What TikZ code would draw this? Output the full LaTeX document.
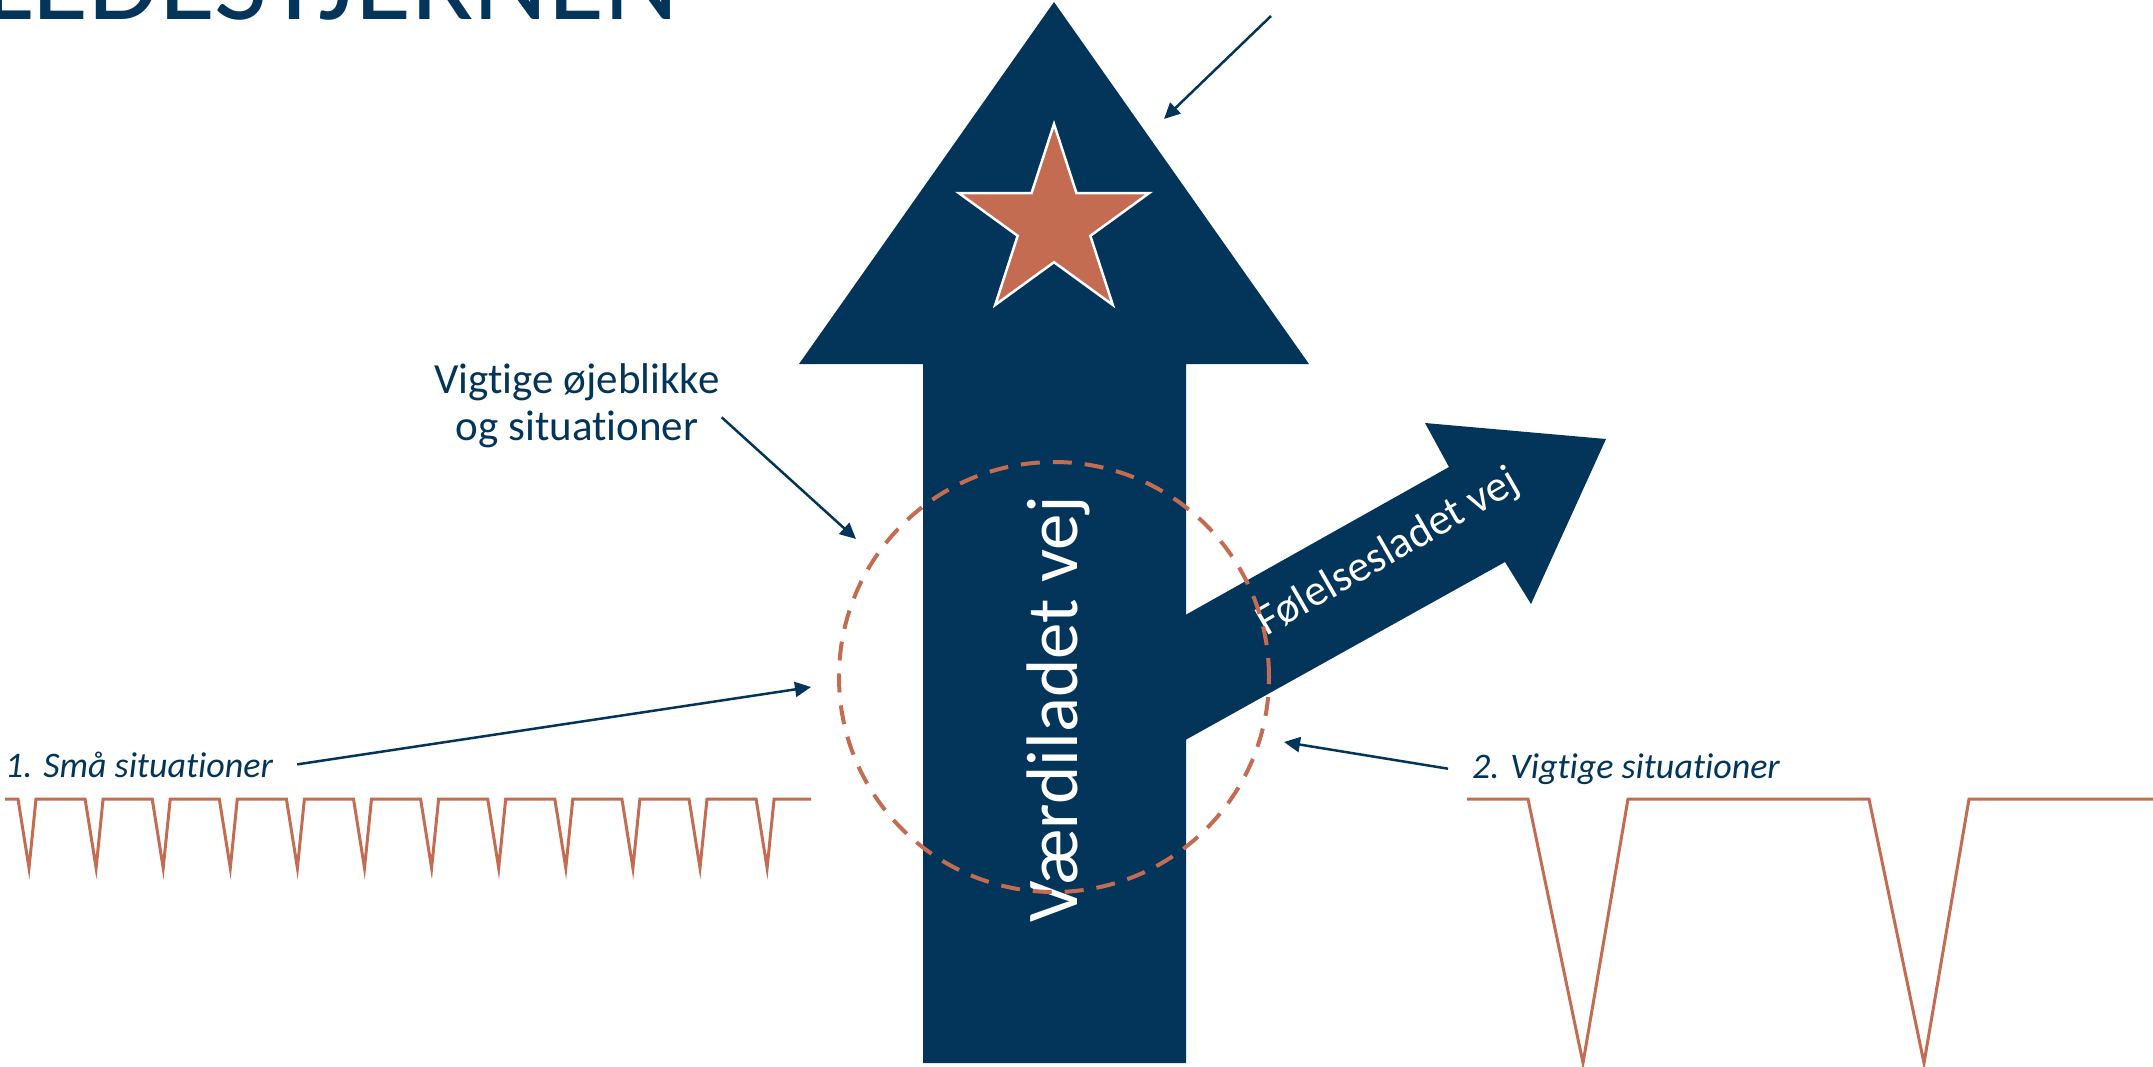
\documentclass[tikz,border=0pt]{standalone}
\usepackage{fontspec}
\setmainfont{Carlito}[Ligatures=NoCommon]
\usetikzlibrary{arrows.meta, shapes.geometric}
\definecolor{navy}{HTML}{03355A}
\definecolor{rust}{HTML}{C46C52}

\begin{document}
\begin{tikzpicture}[
	x=1pt, y=-1pt,
	every node/.style={inner sep=0pt, text=navy},
	road/.style={fill=navy},
	wave/.style={draw=rust, line width=3pt, line join=miter},
	pointer/.style={draw=navy, line width=2.5pt, -{Triangle[length=16pt, width=15pt]}},
	situation/.style={font=\fontsize{36}{42}\selectfont\itshape, anchor=base west},
	roadtext/.style={text=white, font=\fontsize{#1}{#1}\selectfont}
	]
	\useasboundingbox (0,0) rectangle (2153,1066);
	\clip (0,0) rectangle (2153,1066);

	% --- TITEL ---
	\node[anchor=base west, font=\fontsize{115}{120}\selectfont] (title) at (-16,19) {LEDESTJERNEN};

	% --- VEJENE OG STJERNEN ---
	\fill[road] (1180,618) -- (1449,467) -- (1425,423) -- (1606,439) -- (1531,604) -- (1505,562) -- (1180,743) -- cycle;
	\fill[road] (1054,2) -- (1309,364) -- (1186,364) -- (1186,1063) -- (923,1063) -- (923,364) -- (799,364) -- cycle;
	\node[star, star points=5, star point ratio=2.618, minimum size=200pt, fill=rust, draw=white, line width=2.5pt] (star) at (1054,224) {};

	\node[roadtext=73, rotate=90, anchor=base west] (value) at (1077,923) {Værdiladet vej};
	\node[roadtext=44, rotate=30, anchor=base] (feeling) at (1394,563) {Følelsesladet vej};

	% valgpunktet
	\draw[rust, line width=4pt, dash pattern=on 19pt off 13pt] (1054,677) circle[radius=215pt];

	% --- SITUATIONER ---
	\draw[wave] (5,799) \foreach \k in {0,...,11} {
		-- ({18+67.1*\k},799) -- ({29+67.1*\k},868) -- ({36+67.1*\k},799)} -- (811,799);
	\draw[wave] (1467,799) -- (1528,799) -- (1583,1063) -- (1628,799) -- (1869,799) -- (1924,1063) -- (1969,799) -- (2153,799);

	% --- TEKSTER OG PILE ---
	\node[font=\fontsize{43}{47}\selectfont, align=center, anchor=north] (moments) at (577,363) {Vigtige øjeblikke\\og situationer};
	\node[situation] (small) at (5,777) {1. Små situationer};
	\node[situation] (big) at (1472,778) {2. Vigtige situationer};

	\coordinate (momentsTip) at (856,539);
	\coordinate (smallTip) at (811,687);
	\coordinate (bigTip) at (1284,742);
	\coordinate (starFrom) at (1271,16);
	\coordinate (starTip) at (1164,119);

	\draw[pointer] ([shift={(2,12)}]moments.east) -- (momentsTip);
	\draw[pointer] ([shift={(24,0)}]small.east) -- (smallTip);
	\draw[pointer] ([shift={(-24,0)}]big.west) -- (bigTip);
	\draw[pointer] (starFrom) -- (starTip);

\end{tikzpicture}
\end{document}
